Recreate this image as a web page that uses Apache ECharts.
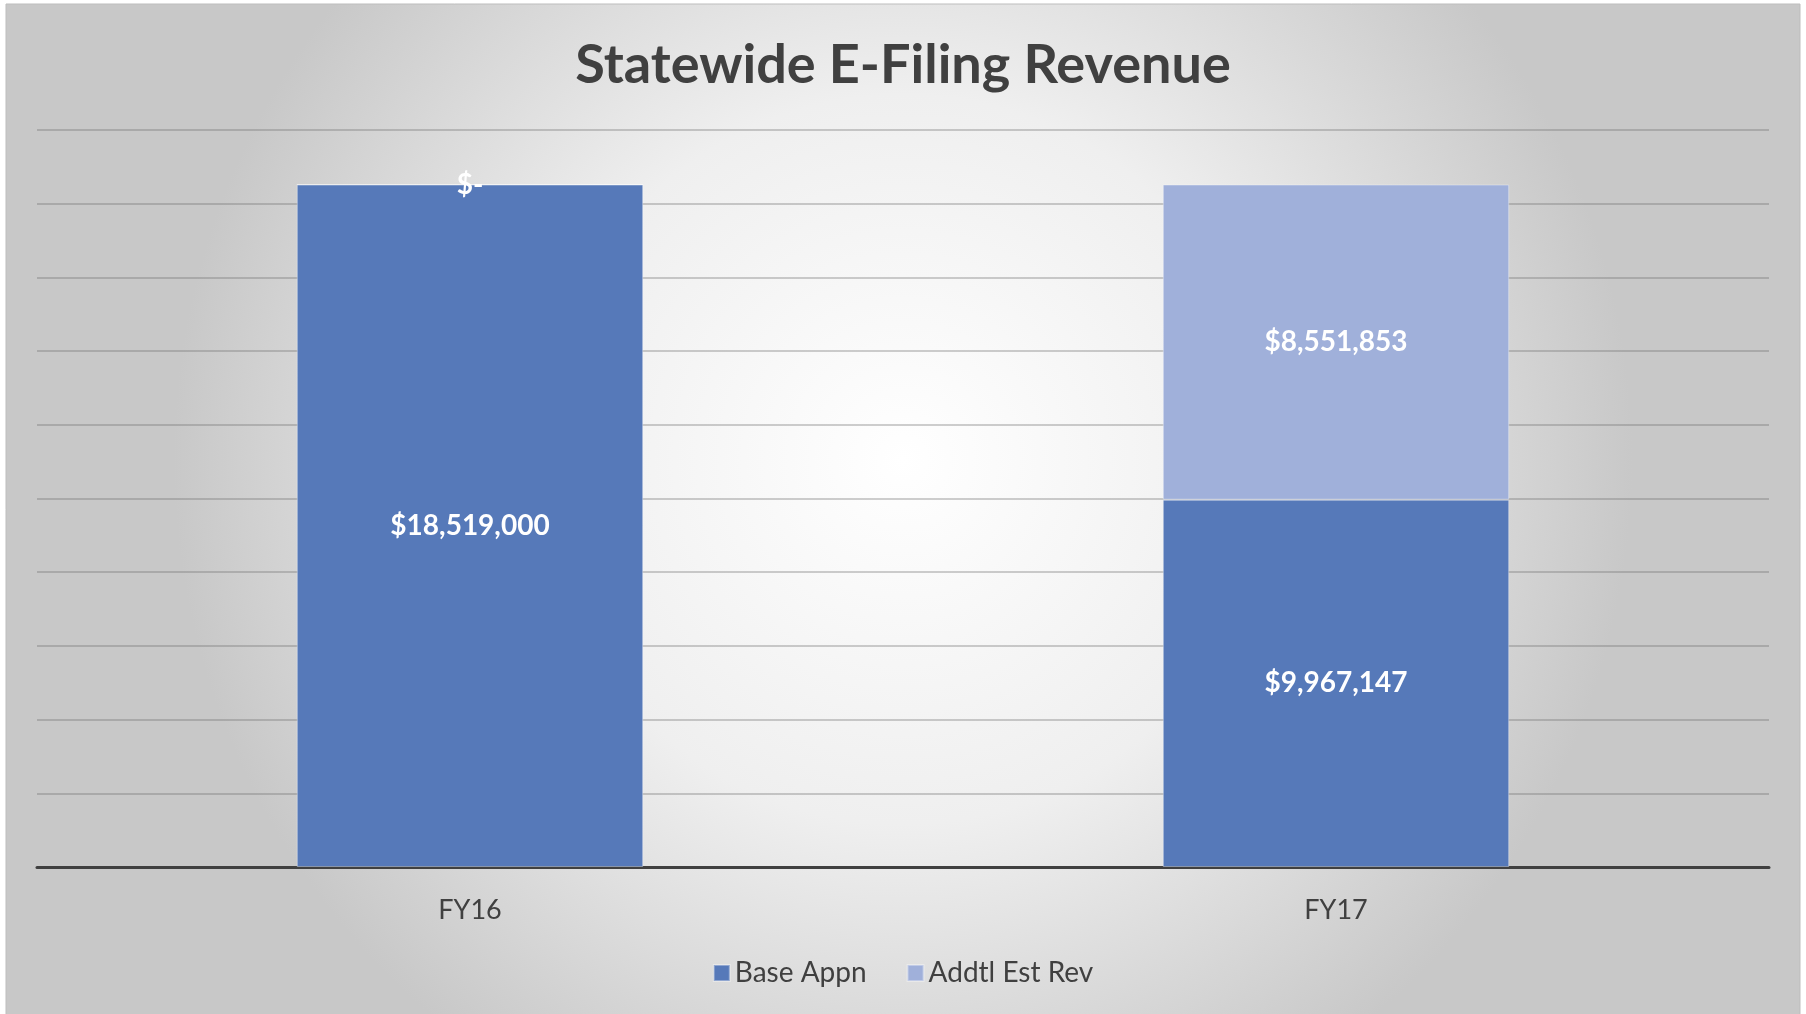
<!DOCTYPE html>
<html>
<head>
<meta charset="utf-8">
<script src="https://cdn.jsdelivr.net/npm/echarts@6/dist/echarts.min.js"></script>
<style>
html,body{margin:0;padding:0;background:#fff;}
#chart{width:1806px;height:1014px;}
</style>
</head>
<body>
<div id="chart"></div>
<script>
const titleText = 'Statewide E-Filing Revenue';
const categories = ['FY16', 'FY17'];
const seriesNames = ['Base Appn', 'Addtl Est Rev'];
const baseAppn = [18519000, 9967147];
const addtlEstRev = [0, 8551853];
const axisMin = 0;
const axisMax = 20000000;
const axisInterval = 2000000;

const FONT = 'Lato';
function fmt(v) {
  if (!v) return '$-';
  return '$' + v.toLocaleString('en-US');
}

const chart = echarts.init(document.getElementById('chart'));
chart.setOption({
  animation: false,
  backgroundColor: '#ffffff',
  graphic: [{
    type: 'rect',
    z: -10,
    silent: true,
    shape: { x: 6, y: 4, width: 1794, height: 1012 },
    style: {
      fill: {
        type: 'radial', x: 0.5, y: 0.45, r: 0.72,
        colorStops: [
          { offset: 0, color: '#ffffff' },
          { offset: 0.5, color: '#efefef' },
          { offset: 1, color: '#c8c8c8' }
        ]
      },
      stroke: '#bdbdbd',
      lineWidth: 1
    }
  }],
  title: {
    text: titleText,
    left: 'center',
    top: 34,
    textStyle: { fontFamily: FONT, fontWeight: 'bold', fontSize: 54, color: '#404040' }
  },
  legend: {
    bottom: 22,
    left: 'center',
    itemWidth: 16,
    itemHeight: 16,
    itemGap: 40,
    icon: 'rect',
    textStyle: { fontFamily: FONT, fontSize: 28, color: '#404040' },
    data: seriesNames
  },
  grid: { left: 37, right: 37, top: 130, bottom: 147, containLabel: false },
  xAxis: {
    type: 'category',
    data: categories,
    axisLine: { lineStyle: { color: '#404040', width: 3 } },
    axisTick: { show: false },
    axisLabel: { fontFamily: FONT, fontSize: 27, color: '#404040', margin: 30 }
  },
  yAxis: {
    type: 'value',
    min: axisMin,
    max: axisMax,
    interval: axisInterval,
    axisLabel: { show: false },
    axisLine: { show: false },
    axisTick: { show: false },
    splitLine: { lineStyle: { color: 'rgba(110,110,110,0.45)', width: 1.5 } }
  },
  series: [
    {
      name: seriesNames[0],
      type: 'bar',
      stack: 'total',
      data: baseAppn,
      barWidth: '40%',
      itemStyle: { color: '#5679b9', borderColor: 'rgba(255,255,255,0.35)', borderWidth: 1 },
      label: {
        show: true, position: 'inside', formatter: p => fmt(p.value),
        fontFamily: FONT, fontWeight: 'bold', fontSize: 28, color: '#ffffff'
      }
    },
    {
      name: seriesNames[1],
      type: 'bar',
      stack: 'total',
      data: addtlEstRev,
      barWidth: '40%',
      itemStyle: { color: '#a0b0da', borderColor: 'rgba(255,255,255,0.35)', borderWidth: 1 },
      label: {
        show: true, position: 'inside', formatter: p => fmt(p.value),
        fontFamily: FONT, fontWeight: 'bold', fontSize: 28, color: '#ffffff'
      }
    }
  ]
});
</script>
</body>
</html>
